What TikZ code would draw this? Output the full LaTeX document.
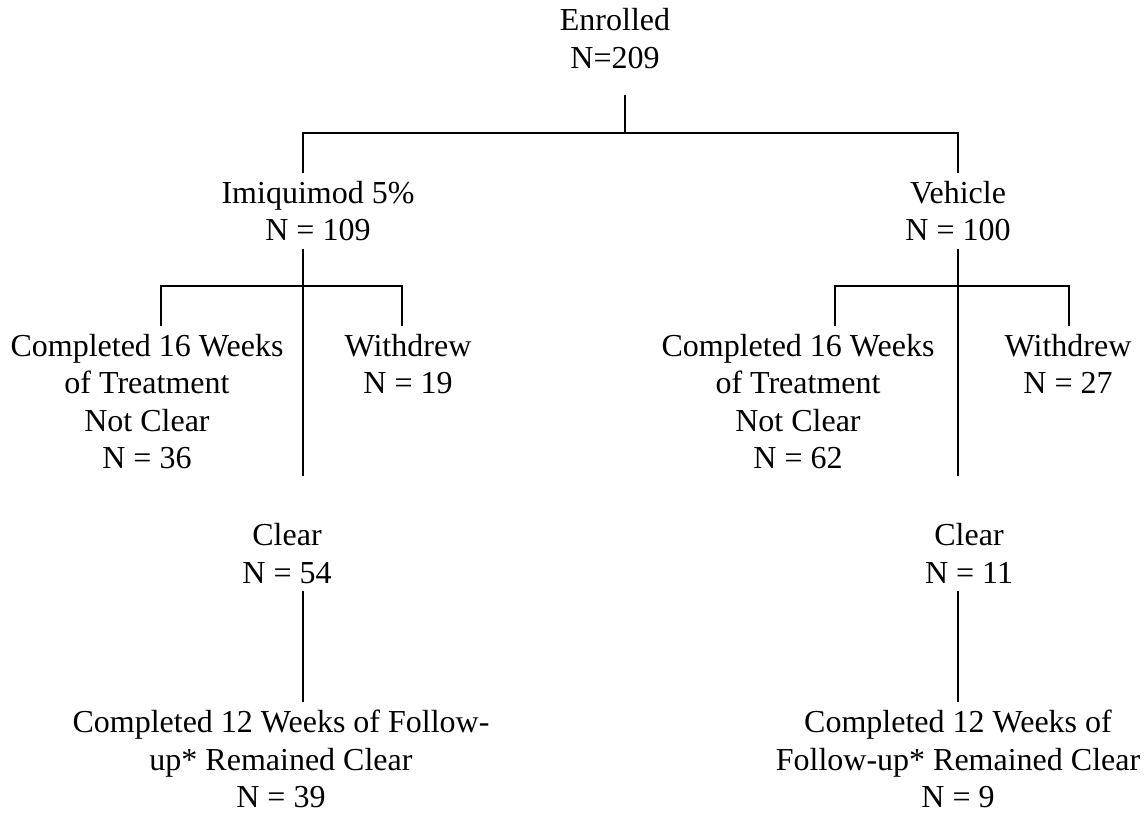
\documentclass[tikz,border=0pt]{standalone}
\usepackage{fontspec}
\setmainfont{Liberation Serif}
\usepackage{tikz}

\begin{document}
\begin{tikzpicture}[x=0.75pt, y=-0.75pt, every node/.style = {align=center, inner sep=0pt, outer sep=6pt, font=\fontsize{24}{28}\selectfont}, link/.style = {line width=1.5pt}]
    \useasboundingbox (0,0) rectangle (1144,813);
    \node (enrolled) at (615,38.5) {Enrolled\\N=209};
    \node (imiquimod) at (318,211) {Imiquimod 5\%\\N = 109};
    \node (vehicle) at (958,211) {Vehicle\\N = 100};
    \node (notclearA) at (147,401.5) {Completed 16 Weeks\\of Treatment\\Not Clear\\N = 36};
    \node (withdrewA) at (408,364) {Withdrew\\N = 19};
    \node (clearA) at (287,553.5) {Clear\\N = 54};
    \node (followA) at (281,759) {Completed 12 Weeks of Follow-\\up* Remained Clear\\N = 39};
    \node (notclearB) at (798,401.5) {Completed 16 Weeks\\of Treatment\\Not Clear\\N = 62};
    \node (withdrewB) at (1068,364) {Withdrew\\N = 27};
    \node (clearB) at (969,553.5) {Clear\\N = 11};
    \node (followB) at (958,759) {Completed 12 Weeks of\\Follow-up* Remained Clear\\N = 9};
    % junctions
    \coordinate (hub) at (625,133);
    \coordinate (forkA) at (303,286);
    \coordinate (forkB) at (958,286);
    \coordinate (endA) at (303,476);
    \coordinate (endB) at (958,476);
    % enrolled
    \draw[link, shorten <=14pt] (enrolled.south -| hub) -- (hub);
    \draw[link] (imiquimod.north -| forkA) |- (hub) -| (vehicle.north);
    % imiquimod arm
    \draw[link] (imiquimod.south -| forkA) -- (endA);
    \draw[link] ([xshift=10.5pt]notclearA.north) |- (forkA) -| ([xshift=-4.5pt]withdrewA.north);
    \draw[link] (clearA.south -| forkA) -- (followA.north -| forkA);
    % vehicle arm
    \draw[link] (vehicle.south) -- (endB);
    \draw[link] ([xshift=27.75pt]notclearB.north) |- (forkB) -| ([xshift=0.75pt]withdrewB.north);
    \draw[link] (clearB.south -| forkB) -- (followB.north -| forkB);
\end{tikzpicture}
\end{document}
